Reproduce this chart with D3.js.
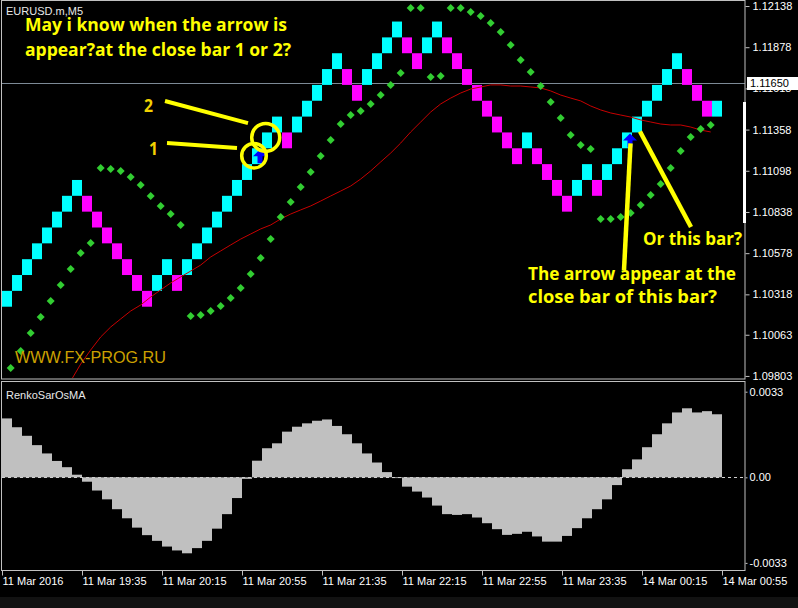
<!DOCTYPE html>
<html>
<head>
<meta charset="utf-8">
<script src="https://cdn.jsdelivr.net/npm/d3@7"></script>
<style>
  html, body { margin: 0; padding: 0; background: #121212; }
  svg { display: block; }
  text { font-family: "Liberation Sans", Arial, sans-serif; }
</style>
</head>
<body>
<div id="chart"></div>
<script>
// 1. DATA -------------------------------------------------------------------------

const brickSize = 0.0010
const firstOpen = 1.1024

// renko closes, one per brick (up brick closes on top, down brick on bottom)
const renkoClose = [
  1.1034, 1.1044, 1.1054, 1.1064, 1.1074, 1.1084, 1.1094, 1.1104,
  1.1084, 1.1074, 1.1064, 1.1054, 1.1044, 1.1034, 1.1024,
  1.1044, 1.1054, 1.1034,
  1.1054, 1.1064, 1.1074, 1.1084, 1.1094, 1.1104, 1.1114, 1.1124, 1.1134, 1.1144,
  1.1124,
  1.1144, 1.1154, 1.1164, 1.1174, 1.1184,
  1.1164, 1.1154,
  1.1174, 1.1184, 1.1194, 1.1204,
  1.1184, 1.1174,
  1.1194, 1.1204,
  1.1184, 1.1174, 1.1164, 1.1154, 1.1144, 1.1134, 1.1124, 1.1114,
  1.1134,
  1.1114, 1.1104, 1.1094, 1.1084,
  1.1104, 1.1114,
  1.1094,
  1.1114, 1.1124, 1.1134, 1.1144, 1.1154, 1.1164, 1.1174, 1.1184,
  1.1164, 1.1154, 1.1144,
  1.1154
]

// parabolic SAR dots
const sarValues = [
  1.09853, 1.09961, 1.10074, 1.10175, 1.10276, 1.10377, 1.10478, 1.10579, 1.10642,
  1.11116, 1.11109, 1.11097, 1.11059, 1.11008, 1.10939, 1.10876, 1.10825, 1.10756,
  1.10181, 1.10188, 1.10213, 1.10245, 1.10295, 1.10358, 1.10447, 1.10548, 1.10667,
  1.10806, 1.10901, 1.10996, 1.11090, 1.11191, 1.11292, 1.11393, 1.11450, 1.11475,
  1.11520, 1.11576, 1.11640, 1.11715,
  1.12126, 1.12126,
  1.11690, 1.11696,
  1.12126, 1.12126, 1.12100, 1.12075, 1.12031, 1.11974, 1.11892, 1.11797, 1.11722,
  1.11633, 1.11532, 1.11431, 1.11324, 1.11261, 1.11236,
  1.10794, 1.10794, 1.10806, 1.10832, 1.10882, 1.10945, 1.11015, 1.11116, 1.11223,
  1.11311, 1.11362, 1.11387
]

// moving average (red)
const maValues = [
  null, null, null, null, null,
  1.09670, 1.09771, 1.09878, 1.09967, 1.10049, 1.10112, 1.10163, 1.10213, 1.10251,
  1.10301, 1.10346, 1.10390, 1.10428, 1.10465, 1.10503, 1.10554, 1.10592, 1.10630,
  1.10667, 1.10699, 1.10731, 1.10756, 1.10794, 1.10825, 1.10851, 1.10876, 1.10907,
  1.10939, 1.10970, 1.11002, 1.11046, 1.11097, 1.11154, 1.11210, 1.11273, 1.11343,
  1.11406, 1.11469, 1.11520, 1.11557, 1.11589, 1.11614, 1.11627, 1.11640, 1.11640,
  1.11633, 1.11633, 1.11627, 1.11621, 1.11602, 1.11576, 1.11557, 1.11539, 1.11507,
  1.11482, 1.11463, 1.11450, 1.11437, 1.11419, 1.11406, 1.11393, 1.11387, 1.11387,
  1.11374, 1.11355, 1.11343
]

// RenkoSarOsMA histogram
const oscValues = [
  0.00227, 0.00193, 0.00160, 0.00124, 0.00092, 0.00063, 0.00039, 0.00010,
  -0.00017, -0.00051, -0.00085, -0.00123, -0.00158, -0.00194, -0.00223, -0.00245,
  -0.00267, -0.00282, -0.00293, -0.00273, -0.00245, -0.00198, -0.00142, -0.00080,
  -0.00006, 0.00064, 0.00112, 0.00131, 0.00176, 0.00195, 0.00208, 0.00218,
  0.00223, 0.00198, 0.00166, 0.00131, 0.00092, 0.00057, 0.00020, -0.00003,
  -0.00036, -0.00055, -0.00078, -0.00109, -0.00142, -0.00145, -0.00142, -0.00155,
  -0.00177, -0.00200, -0.00222, -0.00218, -0.00210, -0.00228, -0.00248, -0.00248,
  -0.00226, -0.00196, -0.00158, -0.00123, -0.00085, -0.00030, 0.00031, 0.00069,
  0.00116, 0.00166, 0.00208, 0.00250, 0.00266, 0.00250, 0.00255, 0.00243
]

const timeTickBars = [0, 8, 16, 24, 32, 40, 48, 56, 64, 72]
const timeTickLabels = ["11 Mar 2016", "11 Mar 19:35", "11 Mar 20:15", "11 Mar 20:55", "11 Mar 21:35",
                        "11 Mar 22:15", "11 Mar 22:55", "11 Mar 23:35", "14 Mar 00:15", "14 Mar 00:55"]
const priceTicks = [1.12138, 1.11878, 1.11618, 1.11358, 1.11098, 1.10838, 1.10578, 1.10318, 1.10063, 1.09803]
const oscTicks = [0.0033, 0, -0.0033]
const oscTickLabels = ["0.0033", "0.00", "-0.0033"]
const currentPrice = 1.11650
const arrowBars = [25, 62]

// 2. LAYOUT -------------------------------------------------------------------------
const W = 798, H = 608
const plotLeft = 2, plotRight = 745
const mainTop = 0, mainBottom = 378
const subTop = 381, subBottom = 570
const frameColor = "#c0c0c0"

const svg = d3.select("#chart").append("svg")
  .attr("width", W)
  .attr("height", H)

svg.append("rect").attr("width", W).attr("height", 597).attr("fill", "#000")
svg.append("rect").attr("y", 597).attr("width", W).attr("height", H - 597).attr("fill", "#121212")

const x = d3.scaleLinear().domain([0, 74.3]).range([plotLeft, plotRight])
const barW = x(1) - x(0)
const dotOffset = barW * 0.87
const y = d3.scaleLinear().domain([1.09790, 1.12176]).range([mainBottom, mainTop])
const yOsc = d3.scaleLinear().domain([-0.0033, 0.0033]).range([562.9, 391.7])

const defs = svg.append("defs")
defs.append("clipPath").attr("id", "clipMain").append("rect")
  .attr("x", plotLeft).attr("y", mainTop).attr("width", plotRight - plotLeft).attr("height", mainBottom - mainTop)
defs.append("clipPath").attr("id", "clipSub").append("rect")
  .attr("x", plotLeft).attr("y", subTop).attr("width", plotRight - plotLeft).attr("height", subBottom - subTop)

const main = svg.append("g").attr("clip-path", "url(#clipMain)")
const sub = svg.append("g").attr("clip-path", "url(#clipSub)")

// 3. MAIN PANEL -------------------------------------------------------------------------

// current price line
main.append("line")
  .attr("x1", plotLeft).attr("x2", plotRight)
  .attr("y1", Math.round(y(currentPrice)) + 0.5).attr("y2", Math.round(y(currentPrice)) + 0.5)
  .attr("stroke", "#7d8a96")

const bricks = renkoClose.map((c, i) => {
  const prev = i === 0 ? firstOpen : renkoClose[i - 1]
  const up = c > prev
  return { i, up, open: up ? c - brickSize : c + brickSize, close: c }
})

main.append("g").selectAll("rect")
  .data(bricks)
  .enter().append("rect")
  .attr("x", d => x(d.i))
  .attr("y", d => y(Math.max(d.open, d.close)))
  .attr("width", barW)
  .attr("height", d => y(Math.min(d.open, d.close)) - y(Math.max(d.open, d.close)))
  .attr("fill", d => d.up ? "#00ffff" : "#ff00ff")

// moving average
const maLine = d3.line()
  .defined(d => d != null)
  .x((d, i) => x(i) + dotOffset)
  .y(d => y(d))
main.append("path")
  .datum(maValues)
  .attr("d", maLine)
  .attr("fill", "none")
  .attr("stroke", "#c80000")
  .attr("stroke-width", 1)

// SAR diamonds
main.append("g").selectAll("path")
  .data(sarValues)
  .enter().append("path")
  .attr("d", "M0,-4L4,0L0,4L-4,0Z")
  .attr("transform", (d, i) => `translate(${x(i) + dotOffset},${y(d)})`)
  .attr("fill", "#32cd32")

// signal arrows (blue, pointing up)
const arrowPath = "M0,0L7,7L2.5,7L2.5,14L-2.5,14L-2.5,7L-7,7Z"
main.append("g").selectAll("path")
  .data(arrowBars)
  .enter().append("path")
  .attr("d", arrowPath)
  .attr("transform", i => `translate(${x(i) + barW * 0.8},${y(renkoClose[i]) + 1})`)
  .attr("fill", "#0000ff")

// 4. SUB PANEL -------------------------------------------------------------------------
sub.append("g").selectAll("rect")
  .data(oscValues)
  .enter().append("rect")
  .attr("x", (d, i) => x(i))
  .attr("y", d => yOsc(Math.max(d, 0)))
  .attr("width", barW)
  .attr("height", d => Math.abs(yOsc(d) - yOsc(0)))
  .attr("fill", "#c0c0c0")

sub.append("line")
  .attr("x1", plotLeft).attr("x2", plotRight)
  .attr("y1", Math.round(yOsc(0)) + 0.5).attr("y2", Math.round(yOsc(0)) + 0.5)
  .attr("stroke", "#d0d0d0")
  .attr("stroke-dasharray", "3,3")

// 5. FRAMES AND AXES -------------------------------------------------------------------------
svg.append("rect")
  .attr("x", 1.5).attr("y", 0.5).attr("width", plotRight - 1.5).attr("height", mainBottom + 0.5)
  .attr("fill", "none").attr("stroke", frameColor)
svg.append("rect")
  .attr("x", 1.5).attr("y", subTop + 0.5).attr("width", plotRight - 1.5).attr("height", subBottom - subTop)
  .attr("fill", "none").attr("stroke", frameColor)

// scale bar on price axis
svg.append("rect").attr("x", 743).attr("y", 102).attr("width", 3).attr("height", 121).attr("fill", "#fff")

const styleAxis = g => {
  g.select(".domain").remove()
  g.selectAll("line").attr("stroke", frameColor)
  g.selectAll("text").attr("fill", "#ffffff").style("font-size", "11px")
    .style("font-family", "'Liberation Sans', Arial, sans-serif")
}

svg.append("g")
  .attr("transform", `translate(${plotRight + 0.5},0)`)
  .call(d3.axisRight(y).tickValues(priceTicks).tickSize(4).tickPadding(3).tickFormat(d3.format(".5f")))
  .call(styleAxis)

svg.append("g")
  .attr("transform", `translate(${plotRight + 0.5},0)`)
  .call(d3.axisRight(yOsc).tickValues(oscTicks).tickSize(2).tickPadding(2).tickFormat((d, i) => oscTickLabels[i]))
  .call(styleAxis)

// current price box
const boxY = Math.round(y(currentPrice))
svg.append("rect").attr("x", 747).attr("y", boxY - 6).attr("width", 51).attr("height", 13).attr("fill", "#fff")
svg.append("text")
  .attr("x", 750).attr("y", boxY + 4)
  .attr("fill", "#000").style("font-size", "11px")
  .text(d3.format(".5f")(currentPrice))

svg.append("g")
  .attr("transform", `translate(0,${subBottom + 0.5})`)
  .call(d3.axisBottom(x).tickValues(timeTickBars).tickSize(5).tickPadding(2).tickFormat((d, i) => timeTickLabels[i]))
  .call(styleAxis)
  .call(g => g.selectAll("text").attr("text-anchor", "start").attr("x", 0))

// 6. LABELS AND ANNOTATIONS -------------------------------------------------------------------------
svg.append("text").attr("x", 6).attr("y", 15).attr("fill", "#e8e8e8").style("font-size", "11px").text("EURUSD.m,M5")
svg.append("text").attr("x", 6).attr("y", 399).attr("fill", "#e8e8e8").style("font-size", "11px").text("RenkoSarOsMA")

svg.append("text")
  .attr("x", 15).attr("y", 363).attr("textLength", 151).attr("lengthAdjust", "spacingAndGlyphs")
  .attr("fill", "#cca000").style("font-size", "17px")
  .text("WWW.FX-PROG.RU")

const yellow = "#ffff00"
const note = (txt, tx, ty, len, color) => svg.append("text")
  .attr("x", tx).attr("y", ty)
  .attr("textLength", len).attr("lengthAdjust", "spacingAndGlyphs")
  .attr("fill", color || yellow)
  .style("font-family", "'Open Sans', 'DejaVu Sans', sans-serif")
  .style("font-weight", "bold").style("font-size", "17px")
  .text(txt)

note("May i know when the arrow is", 25, 31, 262)
note("appear?at the close bar 1 or 2?", 25, 56, 266)
note("Or this bar?", 643, 245, 99)
note("The arrow appear at the", 528, 280, 208)
note("close bar of this bar?", 528, 303, 189)
note("2", 144, 112, 9, "#f2d200")
note("1", 149, 155, 9, "#f2d200")

// circles around bars 1 and 2
const c2 = [x(26) + 3.7, y(renkoClose[26]) + 5]
const c1 = [x(25) + 2, y(renkoClose[25]) + 7.4]
svg.append("circle").attr("cx", c2[0]).attr("cy", c2[1]).attr("r", 14)
  .attr("fill", "none").attr("stroke", yellow).attr("stroke-width", 3.5)
svg.append("circle").attr("cx", c1[0]).attr("cy", c1[1]).attr("r", 12.3)
  .attr("fill", "none").attr("stroke", yellow).attr("stroke-width", 3.5)

const pointer = (x1, y1, x2, y2, w) => svg.append("line")
  .attr("x1", x1).attr("y1", y1).attr("x2", x2).attr("y2", y2)
  .attr("stroke", yellow).attr("stroke-width", w || 4)

pointer(165, 101, c2[0] - 17.7, c2[1] - 14.3)
pointer(167, 143, c1[0] - 17, c1[1] - 7.7)
const a2x = x(arrowBars[1]) + barW * 0.85
pointer(a2x, y(renkoClose[62]) + 11, 624, 270, 4.5)
pointer(x(64) - 2, y(renkoClose[62]) - 1, 691, 227, 4.5)
</script>
</body>
</html>
